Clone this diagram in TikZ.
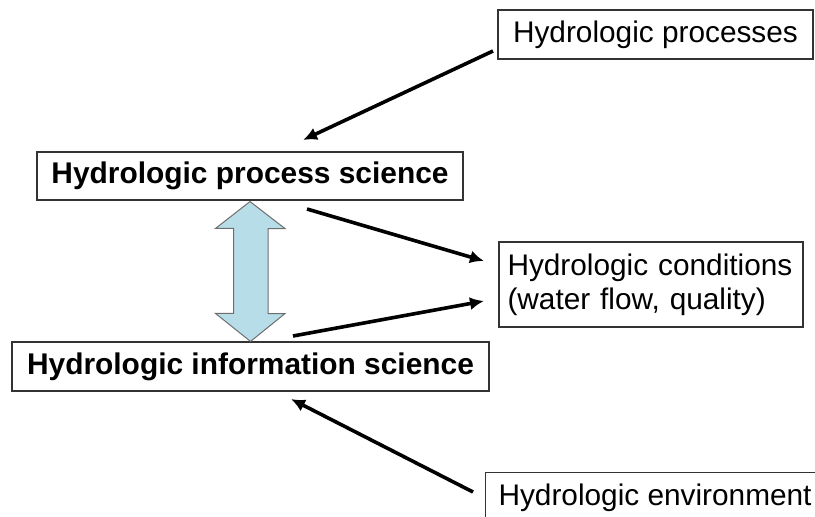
\documentclass[tikz,border=0pt]{standalone}
\usepackage{fontspec}
\setmainfont{Liberation Sans}
\usetikzlibrary{arrows.meta,positioning}
\definecolor{boxline}{HTML}{333333}
\definecolor{dblfill}{HTML}{B7DEE8}
\definecolor{dblline}{HTML}{6E6E6E}
\tikzset{
  box/.style={draw=boxline, line width=1.1pt, fill=white, inner sep=0pt,
              font=\fontsize{29.8}{34}\selectfont},
  boldbox/.style={box, font=\fontsize{29.9}{34}\selectfont\bfseries},
  conn/.style={line width=3.6pt, draw=black, -{Latex[length=14pt,width=13pt]}},
  dbl/.style={fill=dblfill, draw=dblline, line width=1pt, line join=miter}
}
\begin{document}
\begin{tikzpicture}[x=1pt,y=-1pt]
\useasboundingbox (0,0) rectangle (815,517);

% boxes
\node[box, minimum width=315pt, minimum height=49pt] (hproc) at (655.5,34.5) {Hydrologic processes};
\node[boldbox, minimum width=426pt, minimum height=48pt] (psci) at (250,176) {Hydrologic process science};
\node[boldbox, minimum width=477pt, minimum height=49pt] (isci) at (250.5,366.5) {Hydrologic information science};
\node[box, minimum width=304pt, minimum height=85pt, align=left, text width=287pt] (cond) at (651,284.5)
  {Hydrologic conditions\\(water flow, quality)};
\node[box, anchor=base west, inner xsep=13pt, inner ysep=11pt] (env) at (485,505) {Hydrologic environment};

% double block arrow between the two sciences
\draw[dbl] (psci.south) ++(0,1) coordinate (dtop)
  -- ++(35,27) -- ++(-17,0) -- ++(0,85) -- ++(17,0)
  -- (isci.north) coordinate (dbot)
  -- ++(-35,-28) -- ++(18,0) -- ++(0,-85) -- ++(-18,0) -- cycle;

% connector end points
\coordinate (a1s) at (493,51);
\coordinate (a1e) at (303,140);
\coordinate (a2s) at (307,209);
\coordinate (a2e) at (484,261);
\coordinate (a3s) at (293,336);
\coordinate (a3e) at (484,301);
\coordinate (a4s) at (473,492);
\coordinate (a4e) at (291,399);

\draw[conn] (a1s) -- (a1e);
\draw[conn] (a2s) -- (a2e);
\draw[conn] (a3s) -- (a3e);
\draw[conn] (a4s) -- (a4e);
\end{tikzpicture}
\end{document}
